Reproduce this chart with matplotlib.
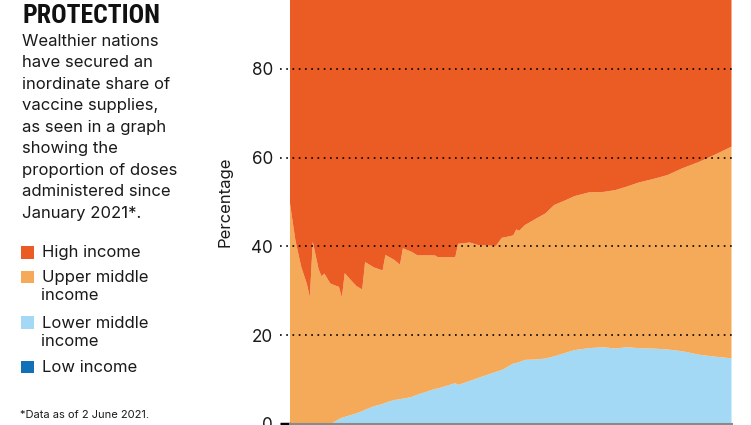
import numpy as np
import pandas as pd
import matplotlib
matplotlib.use("Agg")
import matplotlib.pyplot as plt
import matplotlib.dates as mdates
from matplotlib import font_manager
from matplotlib.patches import Rectangle

# share of doses administered (%); days since 1 Jan 2021
days = [0, 1, 2, 4, 6, 7, 8, 10, 11, 12, 14, 15, 17, 18, 19, 21, 23, 25, 26, 29,
        32, 33, 36, 38, 39, 42, 44, 50, 51, 57, 58, 62, 65, 71, 73, 76, 77, 78, 79, 81,
        85, 88, 91, 95, 98, 103, 108, 112, 116, 120, 125, 130, 135, 141, 146, 152]

low = [0] * 27 + [0.1] * 6 + [0.15] * 12 + [0.2] * 11

lower_middle = [0, 0, 0, 0, 0, 0, 0, 0, 0, 0, 0, 0.3, 1.1, 1.4, 1.6, 2.0, 2.4, 2.9, 3.2, 4.0,
                4.5, 4.8, 5.4, 5.6, 5.7, 6.1, 6.6, 7.8, 7.9, 9.1, 8.7, 9.6, 10.3, 11.6, 12.0, 13.1, 13.5, 13.6, 13.8, 14.3,
                14.4, 14.6, 15.1, 15.9, 16.5, 16.9, 17.1, 16.8, 17.1, 16.9, 16.8, 16.6, 16.2, 15.4, 15.0, 14.6]

upper_middle = [50.5, 46.0, 41.5, 35.5, 31.5, 28.6, 41.1, 34.9, 33.3, 33.9, 31.7, 31.1, 29.8, 27.1, 32.4, 30.5, 28.7, 27.4, 33.3, 31.3,
                30.1, 33.3, 31.6, 30.3, 33.9, 32.7, 31.4, 30.1, 29.6, 28.4, 31.8, 31.2, 29.9, 28.4, 29.8, 29.1, 28.9, 30.1, 29.6, 30.4,
                31.8, 32.7, 34.1, 34.4, 34.7, 35.1, 35.0, 35.7, 36.2, 37.3, 38.2, 39.3, 41.2, 43.5, 45.4, 47.7]

high = [49.5, 54.0, 58.5, 64.5, 68.5, 71.4, 58.9, 65.1, 66.7, 66.1, 68.3, 68.6, 69.1, 71.5, 66.0, 67.5, 68.9, 69.7, 63.5, 64.7,
        65.4, 61.9, 63.0, 64.1, 60.4, 61.2, 62.0, 62.0, 62.4, 62.4, 59.4, 59.1, 59.7, 59.8, 58.0, 57.6, 57.4, 56.1, 56.4, 55.1,
        53.6, 52.5, 50.6, 49.5, 48.6, 47.8, 47.7, 47.3, 46.5, 45.6, 44.8, 43.9, 42.4, 40.9, 39.4, 37.5]

yticks = [0, 20, 40, 60, 80]

legend_labels = ['High income', 'Upper middle\nincome', 'Lower middle\nincome', 'Low income']
colors = {'high': '#eb5b24', 'upper': '#f5aa59', 'lower': '#a3d9f5', 'low': '#1170b8'}

intro = ['Wealthier nations', 'have secured an', 'inordinate share of', 'vaccine supplies,',
         'as seen in a graph', 'showing the', 'proportion of doses', 'administered since',
         'January 2021*.']

dates = pd.Timestamp('2021-01-01') + pd.to_timedelta(days, unit='D')

plt.rcParams['font.family'] = ['Inter', 'Lato', 'DejaVu Sans']

W, H = 751, 425
fig = plt.figure(figsize=(W / 100, H / 100), dpi=100)

def px(x, y):
    # pixel position (from top-left) to figure fraction
    return x / W, 1 - y / H

# axes runs past the top edge: the picture is a crop
ax = fig.add_axes([289.5 / W, 1.0 / H, 442 / W, 443.75 / H])
ax.stackplot(dates, low, lower_middle, upper_middle, high,
             colors=[colors['low'], colors['lower'], colors['upper'], colors['high']],
             linewidth=0, antialiased=True)
ax.set_xlim(dates[0], dates[-1])
ax.set_ylim(0, 100)

# dotted gridlines that run out past the left edge
for y in yticks[1:]:
    ax.plot([-0.021, 1], [y, y], transform=ax.get_yaxis_transform(), color='black',
            lw=1.2, linestyle=(0, (1, 2.75)), clip_on=False, zorder=5)
ax.plot([-0.021, 0], [0, 0], transform=ax.get_yaxis_transform(), color='black',
        lw=2.5, solid_capstyle='butt', clip_on=False, zorder=6)

ax.set_yticks(yticks)
ax.tick_params(axis='y', length=0, pad=12, labelsize=12.3, labelcolor='#1a1a1a')
ax.xaxis.set_major_locator(mdates.MonthLocator())
ax.tick_params(axis='x', direction='out', length=4, color='#333333', labelbottom=False)
for s in ['left', 'right', 'top']:
    ax.spines[s].set_visible(False)
ax.spines['bottom'].set_color('#8a8a8a')
ax.spines['bottom'].set_linewidth(1.5)
ax.spines['bottom'].set_zorder(7)

ax.set_ylabel('Percentage', fontsize=12, color='#1a1a1a')
ax.yaxis.set_label_coords(-0.13, 0.5)

# title: narrowest heavy face on hand, sized to the reference width
title_family = 'DejaVu Sans'
for fam in ['DejaVu Sans Condensed', 'Liberation Sans Narrow', 'Roboto Condensed', 'Roboto']:
    try:
        font_manager.findfont(font_manager.FontProperties(family=fam), fallback_to_default=False)
        title_family = fam
        break
    except ValueError:
        pass
title = fig.text(*px(22, 22.7), 'PROTECTION', family=title_family, weight='heavy',
                 fontsize=20, va='baseline', ha='left', color='#111111')
fig.canvas.draw()
tw = title.get_window_extent().width
title.set_fontsize(20 * 138 / tw)

for i, line in enumerate(intro):
    fig.text(*px(22, 45.7 + 21.5 * i), line, fontsize=12, va='baseline', ha='left',
             color='#1a1a1a')

legend_tops = [246, 270.7, 316, 360.7]
for lab, col, top in zip(legend_labels, ['high', 'upper', 'lower', 'low'], legend_tops):
    x0, y0 = px(21, top + 12.7)
    fig.patches.append(Rectangle((x0, y0), 12.7 / W, 12.7 / H, transform=fig.transFigure,
                                 facecolor=colors[col], edgecolor='none'))
    for j, part in enumerate(lab.split('\n')):
        fig.text(*px(41.5, top + 11.5 + 18.3 * j), part, fontsize=12, va='baseline',
                 ha='left', color='#1a1a1a')

fig.text(*px(20, 418.3), '*Data as of 2 June 2021.', fontsize=8, va='baseline',
         ha='left', color='#1a1a1a')

fig.savefig('out.png', dpi=100)
